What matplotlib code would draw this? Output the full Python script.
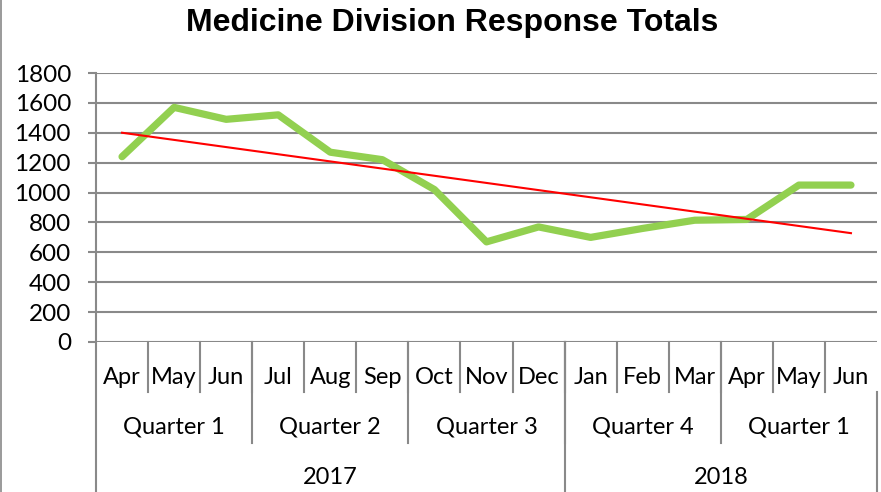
import numpy as np
import matplotlib
matplotlib.use("Agg")
import matplotlib.pyplot as plt
from matplotlib.lines import Line2D

months = ["Apr", "May", "Jun", "Jul", "Aug", "Sep", "Oct", "Nov", "Dec",
          "Jan", "Feb", "Mar", "Apr", "May", "Jun"]
quarters = ["Quarter 1", "Quarter 2", "Quarter 3", "Quarter 4", "Quarter 1"]
years = ["2017", "2018"]
months_per_year = [9, 6]
responses = [1240, 1570, 1490, 1520, 1270, 1220, 1020, 670, 770,
             700, 760, 815, 820, 1050, 1050]

grid_col = "#898989"
lab_font = "Lato"

W, H = 881, 492
fig = plt.figure(figsize=(W / 100, H / 100), dpi=100)
ax = fig.add_axes([96 / W, 1 - 342 / H, 781 / W, 269 / H])

x = np.arange(len(months))
ax.plot(x, responses, color="#92D050", lw=5.2, solid_capstyle="round",
        solid_joinstyle="round", zorder=3)
# linear trendline
k, b = np.polyfit(x, responses, 1)
ax.plot(x, k * x + b, color="#FF0000", lw=1.5, zorder=4)

ax.set_xlim(-0.5, len(months) - 0.5)
ax.set_ylim(0, 1800)
ax.set_yticks(np.arange(0, 1801, 200))
ax.yaxis.grid(True, color=grid_col, lw=1.5)
ax.set_axisbelow(True)
ax.set_xticks([])
for s in ["top", "right", "bottom"]:
    ax.spines[s].set_visible(False)
ax.spines["left"].set_color(grid_col)
ax.spines["left"].set_linewidth(1.5)
ax.tick_params(axis="y", direction="out", length=6, width=1.5, color=grid_col,
               pad=12, labelsize=17.5)
for t in ax.get_yticklabels():
    t.set_fontfamily(lab_font)

tr = ax.get_xaxis_transform()
px = 1 / 269
y_month, y_quarter, y_year = -50 * px, -101 * px, -150 * px


def vline(xv, y0, y1):
    ax.add_line(Line2D([xv, xv], [y0, y1], transform=tr, color=grid_col,
                       lw=1.5, clip_on=False))


# month row
for i, m in enumerate(months):
    ax.text(i, -36 * px, m, transform=tr, ha="center", va="center",
            fontsize=17, family=lab_font)
    if i > 0:
        vline(i - 0.5, 0, y_month)
# quarter row
for j, q in enumerate(quarters):
    ax.text(3 * j + 1, -85 * px, q, transform=tr, ha="center", va="center",
            fontsize=17, family=lab_font)
    if j > 0:
        vline(3 * j - 0.5, 0, y_quarter)
# year row
start = 0
for yr, n in zip(years, months_per_year):
    ax.text(start + (n - 1) / 2, -136 * px, yr, transform=tr, ha="center",
            va="center", fontsize=17, family=lab_font)
    if start > 0:
        vline(start - 0.5, 0, y_year)
    start += n
vline(-0.5, 0, y_year)
vline(len(months) - 0.5, y_month, y_year)

fig.text(452 / W, 1 - 23 / H, "Medicine Division Response Totals",
         ha="center", va="center", fontsize=23, fontweight="bold",
         family="Liberation Sans")
fig.add_artist(Line2D([1 / W, 1 / W], [0, 1], transform=fig.transFigure,
                      color=grid_col, lw=1.2))

fig.savefig("out.png", dpi=100)
